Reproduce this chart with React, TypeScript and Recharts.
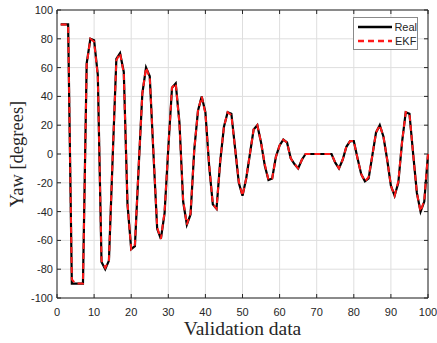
import { LineChart, Line, XAxis, YAxis, CartesianGrid, ReferenceArea, Legend, Label } from 'recharts';

// sample index 1..100
const samples = Array.from({ length: 100 }, (_, i) => i + 1);

const realYaw = [
  90, 90, 90, -90, -90, -90, -90, 63, 80, 79,
  55, -75, -80, -74, -3, 66, 70, 57, -35, -66,
  -64, -10, 42, 60, 54, 0, -52, -59, -41, 4,
  46, 49, 22, -33, -49, -42, 3, 30, 40, 29,
  -8, -35, -38, -5, 19, 29, 28, 4, -20, -29,
  -17, 0, 17, 20, 8, -8, -18, -17, -2, 6,
  10, 8, -3, -7, -10, -4, 0, 0, 0, 0,
  0, 0, 0, 0, -6, -10, -4, 5, 9, 9,
  -3, -14, -19, -17, -1, 15, 20, 12, -4, -22,
  -29, -20, 8, 29, 28, 0, -27, -40, -33, 0,
];

const ekfYaw = [
  90, 90, 90, -87, -90, -90, -90, 62, 80, 78,
  54, -74, -79, -74, -2, 65, 70, 56, -34, -66,
  -63, -9, 42, 60, 53, 1, -51, -59, -40, 4,
  46, 49, 21, -32, -49, -41, 3, 30, 40, 28,
  -7, -35, -38, -5, 19, 29, 27, 4, -19, -29,
  -17, 0, 17, 20, 8, -7, -18, -17, -2, 6,
  10, 8, -3, -7, -10, -4, 0, 0, 0, 0,
  0, 0, 0, 0, -6, -10, -4, 5, 9, 9,
  -3, -14, -19, -16, -1, 15, 20, 12, -4, -22,
  -29, -19, 8, 29, 28, 0, -27, -40, -32, 0,
];

const xTicks = [0, 10, 20, 30, 40, 50, 60, 70, 80, 90, 100];
const yTicks = [-100, -80, -60, -40, -20, 0, 20, 40, 60, 80, 100];

const data = samples.map((x, i) => ({ x, real: realYaw[i], ekf: ekfYaw[i] }));

const W = 437;
const H = 343;
const PLOT_LEFT = 57;
const PLOT_RIGHT = 428;
const PLOT_TOP = 10;
const PLOT_BOTTOM = 298;
const AXIS_COLOR = '#262626';
const TICK_FONT = '"Liberation Sans", Arial, sans-serif';
const TITLE_FONT = '"Liberation Serif", "Times New Roman", serif';

const XTick = ({ x, payload }: any) => (
  <g>
    <line x1={x} x2={x} y1={PLOT_BOTTOM} y2={PLOT_BOTTOM - 4} stroke={AXIS_COLOR} />
    <line x1={x} x2={x} y1={PLOT_TOP} y2={PLOT_TOP + 4} stroke={AXIS_COLOR} />
    <text x={x} y={PLOT_BOTTOM + 18} textAnchor="middle" fontSize={11} fill={AXIS_COLOR} fontFamily={TICK_FONT}>
      {payload.value}
    </text>
  </g>
);

const YTick = ({ y, payload }: any) => (
  <g>
    <line x1={PLOT_LEFT} x2={PLOT_LEFT + 4} y1={y} y2={y} stroke={AXIS_COLOR} />
    <line x1={PLOT_RIGHT} x2={PLOT_RIGHT - 4} y1={y} y2={y} stroke={AXIS_COLOR} />
    <text x={PLOT_LEFT - 4} y={y + 4} textAnchor="end" fontSize={11} fill={AXIS_COLOR} fontFamily={TICK_FONT}>
      {payload.value}
    </text>
  </g>
);

const LegendBox = () => (
  <div
    style={{
      width: 65,
      height: 33,
      border: '1px solid #8a8a8a',
      background: '#fff',
      boxSizing: 'border-box',
      fontFamily: TICK_FONT,
      fontSize: 11,
      color: AXIS_COLOR,
      paddingTop: 2,
    }}
  >
    {[
      { name: 'Real', color: '#000', dash: undefined },
      { name: 'EKF', color: '#ff1a1a', dash: '6 4' },
    ].map((item) => (
      <div key={item.name} style={{ display: 'flex', alignItems: 'center', height: 14 }}>
        <svg width={38} height={14} style={{ marginLeft: 3 }}>
          <line x1={1} x2={35} y1={7} y2={7} stroke={item.color} strokeWidth={2.5} strokeDasharray={item.dash} />
        </svg>
        <span>{item.name}</span>
      </div>
    ))}
  </div>
);

export default function App() {
  return (
    <div style={{ width: W, height: H, background: '#fff' }}>
      <style>{'body{margin:0}'}</style>
      <LineChart
        width={W}
        height={H}
        data={data}
        margin={{ top: PLOT_TOP, right: W - PLOT_RIGHT, bottom: 0, left: 0 }}
      >
        <CartesianGrid stroke="#dedede" strokeWidth={1} />
        <XAxis
          dataKey="x"
          type="number"
          domain={[0, 100]}
          ticks={xTicks}
          height={H - PLOT_BOTTOM}
          axisLine={false}
          tickLine={false}
          tick={<XTick />}
          interval={0}
        >
          <Label
            content={({ viewBox }: any) => (
              <text
                x={viewBox.x + viewBox.width / 2}
                y={H - 8}
                textAnchor="middle"
                fontSize={19.5}
                fill={AXIS_COLOR}
                fontFamily={TITLE_FONT}
              >
                Validation data
              </text>
            )}
          />
        </XAxis>
        <YAxis
          type="number"
          domain={[-100, 100]}
          ticks={yTicks}
          width={PLOT_LEFT}
          axisLine={false}
          tickLine={false}
          tick={<YTick />}
          interval={0}
        >
          <Label
            content={({ viewBox }: any) => {
              const cy = viewBox.y + viewBox.height / 2;
              return (
                <text
                  x={23}
                  y={cy}
                  transform={`rotate(-90, 23, ${cy})`}
                  textAnchor="middle"
                  fontSize={18.5}
                  fill={AXIS_COLOR}
                  fontFamily={TITLE_FONT}
                >
                  Yaw [degrees]
                </text>
              );
            }}
          />
        </YAxis>
        <Line
          type="linear"
          dataKey="real"
          name="Real"
          stroke="#000000"
          strokeWidth={2.2}
          dot={false}
          isAnimationActive={false}
        />
        <Line
          type="linear"
          dataKey="ekf"
          name="EKF"
          stroke="#ff1a1a"
          strokeWidth={2}
          strokeDasharray="6 4"
          dot={false}
          isAnimationActive={false}
        />
        <ReferenceArea x1={0} x2={100} y1={-100} y2={100} fill="none" stroke={AXIS_COLOR} strokeWidth={1} ifOverflow="visible" />
        <Legend
          layout="vertical"
          align="center"
          verticalAlign="middle"
          content={<LegendBox />}
          wrapperStyle={{ position: 'absolute', top: 17, left: 353, width: 65 }}
        />
      </LineChart>
    </div>
  );
}
